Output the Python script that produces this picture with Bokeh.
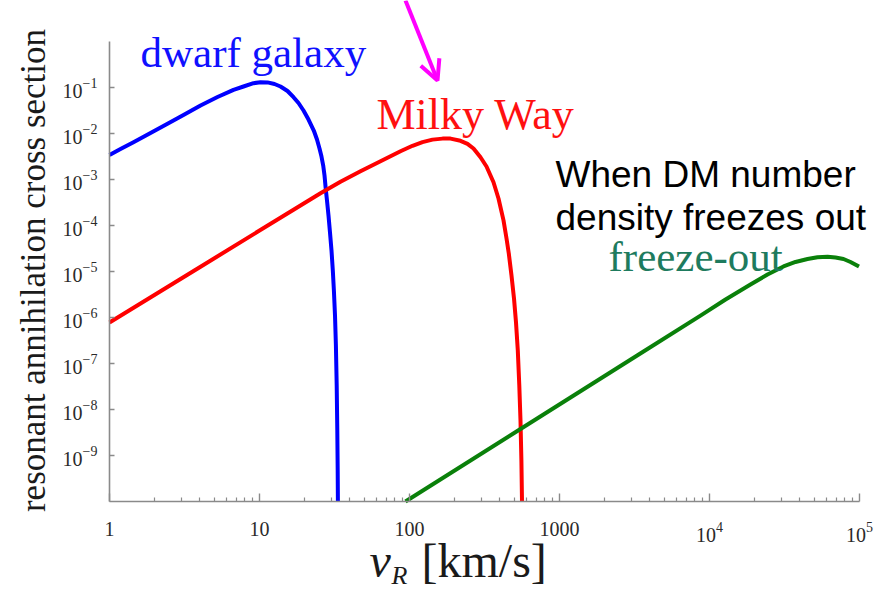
import math
from bokeh.plotting import figure
from bokeh.models import (FixedTicker, LogTickFormatter, Label, Arrow, OpenHead)
from bokeh.embed import file_html
from bokeh.resources import INLINE

# ---- data (v_R in km/s, cross section) ----
dwarf_v = [1.0, 1.184, 1.445, 1.877, 2.436, 3.113, 4.045, 5.248, 6.708, 7.824, 9.12,
           10.15, 11.31, 12.59, 13.80, 15.37, 16.86, 18.20, 19.65, 21.22, 23.01,
           24.17, 25.12, 25.90, 26.59, 27.13, 27.63, 28.18, 28.84, 29.51, 30.20,
           30.82, 31.33, 31.87, 32.31, 32.71, 33.01, 33.21, 33.32]
dwarf_s = [3.41e-3, 4.60e-3, 6.47e-3, 1.03e-2, 1.63e-2, 2.52e-2, 4.07e-2, 6.21e-2,
           8.91e-2, 0.105, 0.124, 0.130, 0.129, 0.119, 0.105, 8.39e-2, 6.15e-2,
           4.60e-2, 3.16e-2, 2.01e-2, 1.16e-2, 7.41e-3, 4.72e-3, 3.16e-3, 2.01e-3,
           1.22e-3, 6.37e-4, 3.49e-4, 1.65e-4, 7.05e-5, 2.86e-5, 1.05e-5, 3.86e-6,
           1.10e-6, 2.46e-7, 3.33e-8, 3.49e-9, 4.72e-10, 1.0e-10]

milky_v = [1.0, 4.045, 16.86, 25.51, 34.67, 47.13, 64.09, 87.10, 104.7, 122.1, 142.3,
           166.0, 187.7, 218.8, 243.6, 267.1, 297.4, 326.1, 363.1, 392.0, 423.4,
           443.4, 459.2, 478.6, 497.4, 512.9, 527.2, 539.5, 549.5, 557.2, 562.3]
milky_s = [7.78e-7, 1.27e-5, 2.20e-4, 5.04e-4, 8.91e-4, 1.51e-3, 2.50e-3, 4.12e-3,
           5.41e-3, 6.50e-3, 7.36e-3, 7.74e-3, 7.74e-3, 6.93e-3, 5.97e-3, 4.72e-3,
           3.05e-3, 1.92e-3, 8.73e-4, 3.86e-4, 1.29e-4, 5.21e-5, 2.46e-5, 8.18e-6,
           2.59e-6, 7.78e-7, 1.92e-7, 3.33e-8, 5.77e-9, 7.78e-10, 1.0e-10]

freeze_v = [94.0, 549.5, 3631, 8710, 12790, 18760, 24360, 31140, 37440, 45010, 52480,
            61210, 69180, 78240, 87100, 99230]
freeze_s = [1.0e-10, 3.77e-9, 1.82e-7, 1.10e-6, 2.46e-6, 5.21e-6, 8.61e-6, 1.29e-5,
            1.61e-5, 1.87e-5, 2.04e-5, 2.10e-5, 2.01e-5, 1.87e-5, 1.61e-5, 1.29e-5]

x_ticks = [1, 10, 100, 1000, 1e4, 1e5]
y_ticks = [1e-9, 1e-8, 1e-7, 1e-6, 1e-5, 1e-4, 1e-3, 1e-2, 1e-1]

SERIF = "Liberation Serif"
W, H = 877, 591
# frame fills the whole canvas; 1 km/s at 109 px, 150 px per decade in x;
# 1e-10 at 501 px, 46 px per decade in y
X0, XD, Y0, YD = 109, 150, 501, 46


def px_x(px):
    return 10 ** ((px - X0) / XD)


def px_y(py):
    return 10 ** (-10 + (Y0 - py) / YD)


p = figure(width=W, height=H, x_axis_type="log", y_axis_type="log",
           x_range=(px_x(0), px_x(W)), y_range=(px_y(H), px_y(0)),
           output_backend="svg", toolbar_location=None,
           min_border_left=0, min_border_right=0, min_border_top=0,
           min_border_bottom=0)
p.outline_line_color = None
p.xgrid.visible = False
p.ygrid.visible = False
p.background_fill_color = "white"
p.border_fill_color = "white"

p.line(dwarf_v, dwarf_s, line_color="#0000ff", line_width=4, line_join="round")
p.line(milky_v, milky_s, line_color="#ff0000", line_width=4, line_join="round")
p.line(freeze_v, freeze_s, line_color="#0a800a", line_width=4, line_join="round")

# axes
minor = [m * 10 ** k for k in range(0, 5) for m in range(2, 10)]
xa = p.xaxis[0]
xa.ticker = FixedTicker(ticks=x_ticks, minor_ticks=minor)
xa.formatter = LogTickFormatter(min_exponent=3)
xa.major_label_overrides = {1000: "1000"}
xa.bounds = (1, 1e5)
xa.fixed_location = 1e-10
ya = p.yaxis[0]
ya.ticker = FixedTicker(ticks=y_ticks)
ya.formatter = LogTickFormatter()
ya.bounds = (1e-10, 1)
ya.fixed_location = 1

for ax in (xa, ya):
    ax.axis_line_color = "#8a8a8a"
    ax.axis_line_width = 1.6
    ax.major_tick_line_color = "#8a8a8a"
    ax.major_tick_line_width = 1.4
    ax.minor_tick_line_color = "#8a8a8a"
    ax.minor_tick_line_width = 1.2
    ax.major_tick_out = 0
    ax.minor_tick_out = 0
    ax.major_label_text_font = SERIF
    ax.major_label_text_font_size = "20px"
    ax.major_label_text_color = "#2a2a2a"

xa.major_tick_in = 8
xa.minor_tick_in = 4
xa.major_label_standoff = 20
ya.major_tick_in = 5
ya.minor_tick_in = 0
ya.minor_tick_line_color = None
ya.major_label_standoff = 12

DY = 16  # measured offset of rendered baselines


def lab(px, py, text, size, color, font=SERIF, style="normal", **kw):
    p.add_layout(Label(x=px_x(px), y=px_y(py - DY * size / 43), text=text,
                       text_font=font, text_font_style=style,
                       text_font_size=f"{size}px", text_color=color,
                       text_baseline="alphabetic", **kw))


# y axis label (rotated; baseline offset acts along x here)
p.add_layout(Label(x=px_x(33), y=px_y(270), text="resonant annihilation cross section",
                   text_font=SERIF, text_font_size="35px", text_color="#1a1a1a",
                   text_baseline="alphabetic", text_align="center",
                   angle=math.pi / 2))

# x axis label: v_R [km/s]
lab(369, 578, "v", 48, "#1a1a1a", style="italic")
lab(391, 585, "R", 26, "#1a1a1a", style="italic")
lab(421, 578, "[km/s]", 48, "#1a1a1a")

# curve names
lab(140, 68, "dwarf galaxy", 43, "#1010ff")
lab(376, 130, "Milky Way", 44, "#ff1010")
lab(608, 272, "freeze-out", 43, "#1e7b5e")

# annotation text
lab(555, 188, "When DM number", 37, "black", font="Liberation Sans")
lab(555, 231, "density freezes out", 37, "black", font="Liberation Sans")

# magenta arrow
p.add_layout(Arrow(x_start=px_x(405), y_start=px_y(0), x_end=px_x(437), y_end=px_y(80),
                   line_color="#ff00ff", line_width=4,
                   end=OpenHead(size=20, line_color="#ff00ff", line_width=4)))

open("out.html", "w").write(file_html(p, INLINE))
